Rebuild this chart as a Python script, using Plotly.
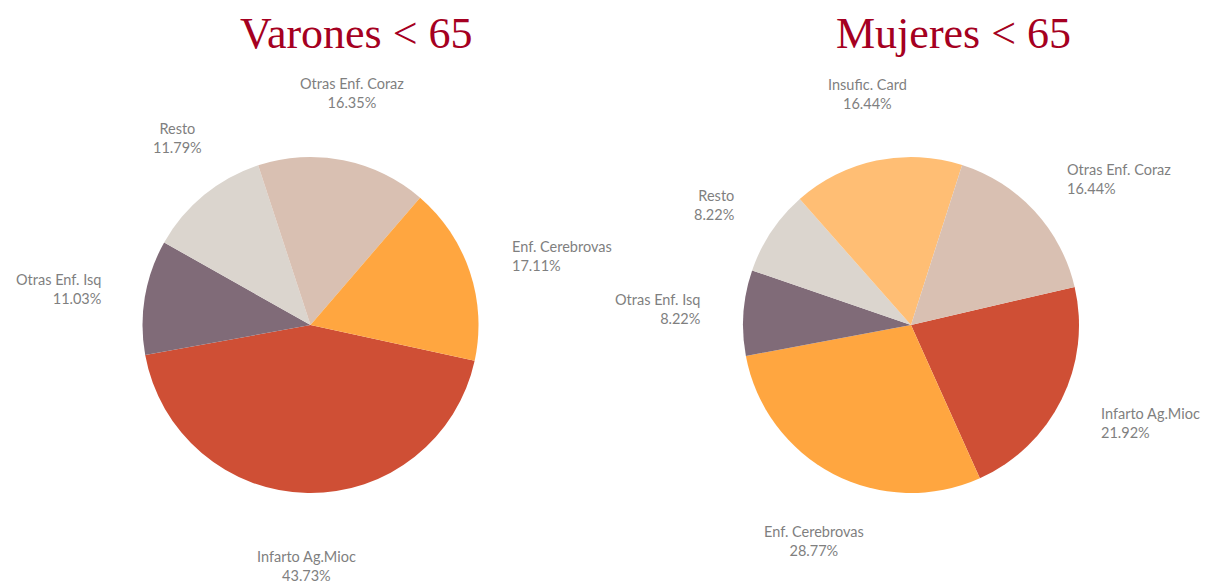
import math
import plotly.graph_objects as go

# ---------------- data ----------------
left_title = "Varones < 65"
left_labels = ["Infarto Ag.Mioc", "Otras Enf. Isq", "Resto", "Otras Enf. Coraz", "Enf. Cerebrovas"]
left_values = [43.73, 11.03, 11.79, 16.35, 17.11]

right_title = "Mujeres < 65"
right_labels = ["Infarto Ag.Mioc", "Enf. Cerebrovas", "Otras Enf. Isq", "Resto", "Insufic. Card", "Otras Enf. Coraz"]
right_values = [21.92, 28.77, 8.22, 8.22, 16.44, 16.44]

# ---------------- style ----------------
W, H = 1210, 585
COLORS = {
    "Infarto Ag.Mioc": "#CF4F35",
    "Enf. Cerebrovas": "#FFA640",
    "Otras Enf. Coraz": "#D9C0B2",
    "Resto": "#DBD5CE",
    "Otras Enf. Isq": "#806B78",
    "Insufic. Card": "#FFBE74",
}
LABEL_FONT = dict(family="Lato, 'Open Sans', sans-serif", size=14.5, color="#7F7F7F")
TITLE_FONT = dict(family="'Liberation Serif', 'DejaVu Serif', serif", size=44, color="#A50021")

R = 168  # pie radius in px
pies = [
    dict(title=left_title, labels=left_labels, values=left_values, cx=310.5, cy=325, rot=102.3, tx=356),
    dict(title=right_title, labels=right_labels, values=right_values, cx=911, cy=325, rot=76.9, tx=954),
]

fig = go.Figure()
annotations = []

for p in pies:
    x0, x1 = (p["cx"] - R) / W, (p["cx"] + R) / W
    y0, y1 = 1 - (p["cy"] + R) / H, 1 - (p["cy"] - R) / H
    fig.add_trace(go.Pie(
        labels=p["labels"], values=p["values"],
        marker=dict(colors=[COLORS[l] for l in p["labels"]], line=dict(width=0)),
        sort=False, direction="clockwise", rotation=p["rot"],
        textinfo="none", hoverinfo="label+percent",
        domain=dict(x=[x0, x1], y=[y0, y1]),
        showlegend=False,
    ))

    total = sum(p["values"])
    cum = 0.0
    for lab, v in zip(p["labels"], p["values"]):
        mid = p["rot"] + 360.0 * (cum + v / 2) / total
        cum += v
        a = math.radians(mid)
        s, c = math.sin(a), math.cos(a)
        px = p["cx"] + 210 * s
        py = p["cy"] - (216 if c > 0 else 221) * c
        xa = "left" if s > 0.7 else ("right" if s < -0.7 else "center")
        ya = "bottom" if c > 0.7 else ("top" if c < -0.7 else "middle")
        annotations.append(dict(
            x=px / W, y=1 - py / H, xref="paper", yref="paper",
            xanchor=xa, yanchor=ya, align=xa,
            text=f"{lab}<br>{v:.2f}%", showarrow=False, font=LABEL_FONT,
        ))

    annotations.append(dict(
        x=p["tx"] / W, y=1 - 33 / H, xref="paper", yref="paper",
        xanchor="center", yanchor="middle", text=p["title"], showarrow=False,
        font=TITLE_FONT,
    ))

fig.update_layout(
    width=W, height=H,
    margin=dict(l=0, r=0, t=0, b=0),
    paper_bgcolor="white", plot_bgcolor="white",
    annotations=annotations,
)

fig.write_html(
    "out.html",
    config={"displayModeBar": False},
    post_script="document.body.style.margin='0';document.body.style.overflow='hidden';",
)
